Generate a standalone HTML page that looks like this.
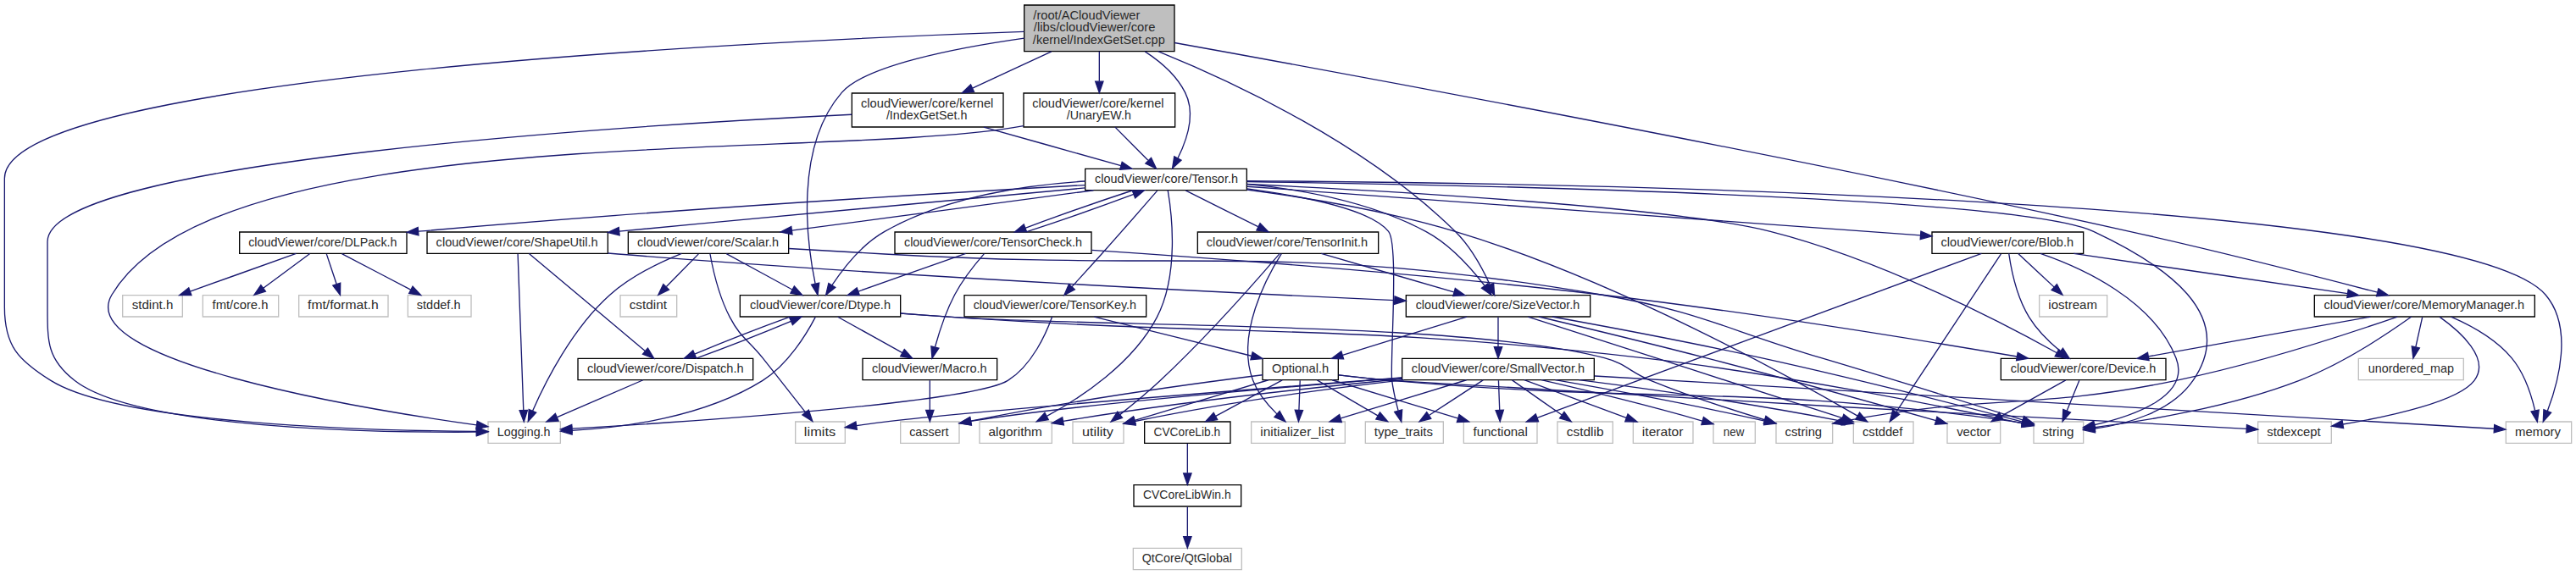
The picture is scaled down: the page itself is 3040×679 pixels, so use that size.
<!DOCTYPE html>
<html><head><meta charset="utf-8"><title>IndexGetSet.cpp include graph</title>
<style>
html,body{margin:0;padding:0;background:#fff;}
body{width:3040px;height:679px;overflow:hidden;font-family:"Liberation Sans",sans-serif;}
svg{display:block;}
</style></head><body>
<svg width="3040" height="678.6667" viewBox="0 0 2280 509">
<g transform="translate(4 505)" font-family="'Liberation Sans', sans-serif" font-size="10.4" fill="#2a2a2a">
<polygon fill="white" stroke="none" points="-4,4 -4,-505 2276,-505 2276,4 -4,4"/>
<g>
<polygon fill="#bfbfbf" stroke="black" points="902.5,-459.5 902.5,-500.5 1035.5,-500.5 1035.5,-459.5 902.5,-459.5"/>
<text text-anchor="start" x="910.5" y="-487.95" textLength="94.51" lengthAdjust="spacingAndGlyphs">/root/ACloudViewer</text>
<text text-anchor="start" x="910.88" y="-476.95" textLength="107.71" lengthAdjust="spacingAndGlyphs">/libs/cloudViewer/core</text>
<text text-anchor="middle" x="968.62" y="-465.95" textLength="116.92" lengthAdjust="spacingAndGlyphs">/kernel/IndexGetSet.cpp</text>
</g>
<g>
<polygon fill="white" stroke="black" points="750,-392.5 750,-422.5 884,-422.5 884,-392.5 750,-392.5"/>
<text text-anchor="start" x="758" y="-409.95" textLength="117.26" lengthAdjust="spacingAndGlyphs">cloudViewer/core/kernel</text>
<text text-anchor="middle" x="816.25" y="-398.95" textLength="71.66" lengthAdjust="spacingAndGlyphs">/IndexGetSet.h</text>
</g>
<g>
<path fill="none" stroke="#191970" d="M926.66,-459.36C904.77,-449.21 878.22,-436.9 856.73,-426.93"/>
<polygon fill="#191970" stroke="#191970" points="858.1,-423.7 847.55,-422.67 855.15,-430.05 858.1,-423.7"/>
</g>
<g>
<polygon fill="white" stroke="#bfbfbf" points="428,-112.5 428,-131.5 492,-131.5 492,-112.5 428,-112.5"/>
<text text-anchor="middle" x="459.62" y="-118.95" textLength="46.94" lengthAdjust="spacingAndGlyphs">Logging.h</text>
</g>
<g>
<path fill="none" stroke="#191970" d="M902.4,-476.95C683.47,-469.34 0,-438.26 0,-347 0,-347 0,-347 0,-233 0,-198.84 12.02,-186.07 41,-168 103.09,-129.28 323.99,-123.6 417.59,-122.96"/>
<polygon fill="#191970" stroke="#191970" points="417.85,-126.46 427.83,-122.91 417.81,-119.46 417.85,-126.46"/>
</g>
<g>
<polygon fill="white" stroke="black" points="956.5,-336.5 956.5,-355.5 1099.5,-355.5 1099.5,-336.5 956.5,-336.5"/>
<text text-anchor="middle" x="1028.38" y="-342.95" textLength="126.66" lengthAdjust="spacingAndGlyphs">cloudViewer/core/Tensor.h</text>
</g>
<g>
<path fill="none" stroke="#191970" d="M1009.43,-459.31C1023.33,-450.31 1037.31,-438.21 1045,-423 1054.39,-404.41 1046.33,-380.68 1038.41,-364.72"/>
<polygon fill="#191970" stroke="#191970" points="1041.49,-363.05 1033.66,-355.9 1035.33,-366.37 1041.49,-363.05"/>
</g>
<g>
<polygon fill="white" stroke="black" points="2044.5,-224.5 2044.5,-243.5 2239.5,-243.5 2239.5,-224.5 2044.5,-224.5"/>
<text text-anchor="middle" x="2141.62" y="-230.95" textLength="177.32" lengthAdjust="spacingAndGlyphs">cloudViewer/core/MemoryManager.h</text>
</g>
<g>
<path fill="none" stroke="#191970" d="M1035.61,-467.11C1186.54,-439.92 1566,-370.09 1881,-300 1958.77,-282.69 2048.82,-259.58 2100.23,-246.09"/>
<polygon fill="#191970" stroke="#191970" points="2101.2,-249.46 2109.98,-243.53 2099.42,-242.69 2101.2,-249.46"/>
</g>
<g>
<polygon fill="white" stroke="black" points="651,-224.5 651,-243.5 793,-243.5 793,-224.5 651,-224.5"/>
<text text-anchor="middle" x="722" y="-230.95" textLength="124.53" lengthAdjust="spacingAndGlyphs">cloudViewer/core/Dtype.h</text>
</g>
<g>
<path fill="none" stroke="#191970" d="M902.49,-471.19C842.98,-462.74 761.99,-447.15 741,-423 699.08,-374.75 709.96,-291.04 717.56,-253.8"/>
<polygon fill="#191970" stroke="#191970" points="721.02,-254.34 719.75,-243.83 714.18,-252.84 721.02,-254.34"/>
</g>
<g>
<polygon fill="white" stroke="black" points="1240.5,-224.5 1240.5,-243.5 1403.5,-243.5 1403.5,-224.5 1240.5,-224.5"/>
<text text-anchor="middle" x="1321.62" y="-230.95" textLength="145.21" lengthAdjust="spacingAndGlyphs">cloudViewer/core/SizeVector.h</text>
</g>
<g>
<path fill="none" stroke="#191970" d="M1021,-459.46C1088.26,-432.12 1206.02,-377.02 1284,-300 1297.64,-286.53 1308.12,-267.17 1314.58,-253.08"/>
<polygon fill="#191970" stroke="#191970" points="1317.96,-254.09 1318.73,-243.52 1311.54,-251.3 1317.96,-254.09"/>
</g>
<g>
<polygon fill="white" stroke="black" points="902,-392.5 902,-422.5 1036,-422.5 1036,-392.5 902,-392.5"/>
<text text-anchor="start" x="909.62" y="-409.95" textLength="116.51" lengthAdjust="spacingAndGlyphs">cloudViewer/core/kernel</text>
<text text-anchor="middle" x="968.62" y="-398.95" textLength="57.01" lengthAdjust="spacingAndGlyphs">/UnaryEW.h</text>
</g>
<g>
<path fill="none" stroke="#191970" d="M969,-459.36C969,-451.23 969,-441.7 969,-433.11"/>
<polygon fill="#191970" stroke="#191970" points="972.5,-432.89 969,-422.89 965.5,-432.89 972.5,-432.89"/>
</g>
<g>
<path fill="none" stroke="#191970" d="M749.91,-403.57C560.95,-394.44 38,-362.69 38,-291 38,-291 38,-291 38,-233 38,-202.2 37.76,-187 62,-168 116.42,-125.34 326.48,-121.8 417.52,-122.35"/>
<polygon fill="#191970" stroke="#191970" points="417.73,-125.85 427.76,-122.43 417.79,-118.85 417.73,-125.85"/>
</g>
<g>
<path fill="none" stroke="#191970" d="M866.74,-392.47C903.77,-382.03 953.68,-367.96 988.12,-358.25"/>
<polygon fill="#191970" stroke="#191970" points="989.16,-361.59 997.83,-355.51 987.26,-354.85 989.16,-361.59"/>
</g>
<g>
<polygon fill="white" stroke="#bfbfbf" points="863,-112.5 863,-131.5 927,-131.5 927,-112.5 863,-112.5"/>
<text text-anchor="middle" x="894.62" y="-118.95" textLength="47.51" lengthAdjust="spacingAndGlyphs">algorithm</text>
</g>
<g>
<path fill="none" stroke="#191970" d="M1029.64,-336.47C1033.18,-315.79 1039.68,-261.94 1020,-224 998.67,-182.88 952.43,-152.62 922.56,-136.42"/>
<polygon fill="#191970" stroke="#191970" points="923.97,-133.21 913.49,-131.66 920.72,-139.41 923.97,-133.21"/>
</g>
<g>
<polygon fill="white" stroke="#bfbfbf" points="1636.5,-112.5 1636.5,-131.5 1689.5,-131.5 1689.5,-112.5 1636.5,-112.5"/>
<text text-anchor="middle" x="1662.25" y="-118.95" textLength="35.50" lengthAdjust="spacingAndGlyphs">cstddef</text>
</g>
<g>
<path fill="none" stroke="#191970" d="M1099.68,-337C1151.59,-330.1 1223.06,-318.3 1284,-300 1425.98,-257.36 1582.52,-170.17 1640.12,-136.6"/>
<polygon fill="#191970" stroke="#191970" points="1641.94,-139.59 1648.8,-131.51 1638.4,-133.55 1641.94,-139.59"/>
</g>
<g>
<polygon fill="white" stroke="#bfbfbf" points="2214,-112.5 2214,-131.5 2272,-131.5 2272,-112.5 2214,-112.5"/>
<text text-anchor="middle" x="2242.25" y="-118.95" textLength="40.28" lengthAdjust="spacingAndGlyphs">memory</text>
</g>
<g>
<path fill="none" stroke="#191970" d="M1099.57,-344.77C1349.72,-343.22 2173.84,-331.47 2249,-244 2273.7,-215.26 2260.66,-167.04 2250.77,-140.99"/>
<polygon fill="#191970" stroke="#191970" points="2253.96,-139.56 2246.97,-131.6 2247.47,-142.18 2253.96,-139.56"/>
</g>
<g>
<polygon fill="white" stroke="#bfbfbf" points="1796,-112.5 1796,-131.5 1840,-131.5 1840,-112.5 1796,-112.5"/>
<text text-anchor="middle" x="1817.62" y="-118.95" textLength="27.96" lengthAdjust="spacingAndGlyphs">string</text>
</g>
<g>
<path fill="none" stroke="#191970" d="M1099.71,-344.13C1287.21,-341.42 1782.16,-331.35 1849,-300 1912.84,-270.06 1977.08,-226.01 1937,-168 1917.63,-139.96 1878.38,-129.38 1850.25,-125.39"/>
<polygon fill="#191970" stroke="#191970" points="1850.43,-121.88 1840.08,-124.16 1849.59,-128.83 1850.43,-121.88"/>
</g>
<g>
<polygon fill="white" stroke="#bfbfbf" points="1204.5,-112.5 1204.5,-131.5 1273.5,-131.5 1273.5,-112.5 1204.5,-112.5"/>
<text text-anchor="middle" x="1238.25" y="-118.95" textLength="51.91" lengthAdjust="spacingAndGlyphs">type_traits</text>
</g>
<g>
<path fill="none" stroke="#191970" d="M1099.73,-337.83C1149.32,-331.24 1209.11,-319.47 1225,-300 1234.28,-288.63 1226.08,-182.54 1228,-168 1229.17,-159.12 1231.41,-149.45 1233.56,-141.36"/>
<polygon fill="#191970" stroke="#191970" points="1236.98,-142.1 1236.33,-131.52 1230.25,-140.2 1236.98,-142.1"/>
</g>
<g>
<polygon fill="white" stroke="black" points="1706,-280.5 1706,-299.5 1840,-299.5 1840,-280.5 1706,-280.5"/>
<text text-anchor="middle" x="1772.62" y="-286.95" textLength="117.34" lengthAdjust="spacingAndGlyphs">cloudViewer/core/Blob.h</text>
</g>
<g>
<path fill="none" stroke="#191970" d="M1099.77,-339.8C1240.36,-329.61 1550.89,-307.1 1695.76,-296.6"/>
<polygon fill="#191970" stroke="#191970" points="1696.18,-300.08 1705.9,-295.86 1695.67,-293.1 1696.18,-300.08"/>
</g>
<g>
<polygon fill="white" stroke="black" points="1767,-168.5 1767,-187.5 1913,-187.5 1913,-168.5 1767,-168.5"/>
<text text-anchor="middle" x="1840" y="-174.95" textLength="128.69" lengthAdjust="spacingAndGlyphs">cloudViewer/core/Device.h</text>
</g>
<g>
<path fill="none" stroke="#191970" d="M1099.72,-341.88C1224.7,-335.95 1477.27,-321.7 1563,-300 1661.76,-275.01 1770.02,-218.34 1816.59,-192.41"/>
<polygon fill="#191970" stroke="#191970" points="1818.3,-195.46 1825.31,-187.51 1814.87,-189.35 1818.3,-195.46"/>
</g>
<g>
<polygon fill="white" stroke="black" points="208,-280.5 208,-299.5 356,-299.5 356,-280.5 208,-280.5"/>
<text text-anchor="middle" x="281.62" y="-286.95" textLength="131.51" lengthAdjust="spacingAndGlyphs">cloudViewer/core/DLPack.h</text>
</g>
<g>
<path fill="none" stroke="#191970" d="M956.31,-341.08C836.46,-334.32 587.59,-319.4 366.38,-300.09"/>
<polygon fill="#191970" stroke="#191970" points="366.46,-296.58 356.2,-299.2 365.85,-303.56 366.46,-296.58"/>
</g>
<g>
<path fill="none" stroke="#191970" d="M956.42,-344.47C904.22,-341.24 833.39,-330.77 779,-300 758.88,-288.62 742.33,-267.4 732.35,-252.3"/>
<polygon fill="#191970" stroke="#191970" points="735.3,-250.43 727,-243.84 729.38,-254.16 735.3,-250.43"/>
</g>
<g>
<polygon fill="white" stroke="black" points="552,-280.5 552,-299.5 694,-299.5 694,-280.5 552,-280.5"/>
<text text-anchor="middle" x="622.62" y="-286.95" textLength="125.31" lengthAdjust="spacingAndGlyphs">cloudViewer/core/Scalar.h</text>
</g>
<g>
<path fill="none" stroke="#191970" d="M963.83,-336.44C891.25,-326.77 773.26,-311.04 696.9,-300.85"/>
<polygon fill="#191970" stroke="#191970" points="697.25,-297.37 686.87,-299.52 696.32,-304.31 697.25,-297.37"/>
</g>
<g>
<polygon fill="white" stroke="black" points="374,-280.5 374,-299.5 534,-299.5 534,-280.5 374,-280.5"/>
<text text-anchor="middle" x="453.62" y="-286.95" textLength="143.35" lengthAdjust="spacingAndGlyphs">cloudViewer/core/ShapeUtil.h</text>
</g>
<g>
<path fill="none" stroke="#191970" d="M956.49,-338.55C863.9,-330.16 697.23,-314.91 544.12,-300.1"/>
<polygon fill="#191970" stroke="#191970" points="544.34,-296.61 534.05,-299.13 543.67,-303.57 544.34,-296.61"/>
</g>
<g>
<path fill="none" stroke="#191970" d="M1099.58,-341.93C1146.94,-337.34 1209.08,-326.29 1258,-300 1279.49,-288.45 1298.29,-267.27 1309.85,-252.23"/>
<polygon fill="#191970" stroke="#191970" points="1312.96,-253.92 1316.08,-243.79 1307.32,-249.76 1312.96,-253.92"/>
</g>
<g>
<polygon fill="white" stroke="black" points="788,-280.5 788,-299.5 962,-299.5 962,-280.5 788,-280.5"/>
<text text-anchor="middle" x="875" y="-286.95" textLength="157.59" lengthAdjust="spacingAndGlyphs">cloudViewer/core/TensorCheck.h</text>
</g>
<g>
<path fill="none" stroke="#191970" d="M998.67,-336.44C971.18,-327.44 930.59,-313.19 903.41,-303.05"/>
<polygon fill="#191970" stroke="#191970" points="904.64,-299.77 894.05,-299.52 902.17,-306.32 904.64,-299.77"/>
</g>
<g>
<polygon fill="white" stroke="black" points="1056,-280.5 1056,-299.5 1216,-299.5 1216,-280.5 1056,-280.5"/>
<text text-anchor="middle" x="1135.25" y="-286.95" textLength="142.82" lengthAdjust="spacingAndGlyphs">cloudViewer/core/TensorInit.h</text>
</g>
<g>
<path fill="none" stroke="#191970" d="M1045.35,-336.32C1062.67,-327.66 1089.52,-314.24 1109.5,-304.25"/>
<polygon fill="#191970" stroke="#191970" points="1111.31,-307.26 1118.69,-299.65 1108.18,-301 1111.31,-307.26"/>
</g>
<g>
<polygon fill="white" stroke="black" points="849.5,-224.5 849.5,-243.5 1010.5,-243.5 1010.5,-224.5 849.5,-224.5"/>
<text text-anchor="middle" x="929.62" y="-230.95" textLength="144.28" lengthAdjust="spacingAndGlyphs">cloudViewer/core/TensorKey.h</text>
</g>
<g>
<path fill="none" stroke="#191970" d="M1020.31,-336.12C1009.41,-323.56 988.8,-299.92 971,-280 962.35,-270.33 952.57,-259.58 944.73,-251.02"/>
<polygon fill="#191970" stroke="#191970" points="947.25,-248.59 937.91,-243.58 942.09,-253.32 947.25,-248.59"/>
</g>
<g>
<path fill="none" stroke="#191970" d="M1767.09,-280.08C1749.55,-253.61 1697.6,-175.21 1674.4,-140.21"/>
<polygon fill="#191970" stroke="#191970" points="1677.12,-137.97 1668.68,-131.57 1671.28,-141.84 1677.12,-137.97"/>
</g>
<g>
<path fill="none" stroke="#191970" d="M1801.99,-280.46C1839.37,-267.57 1901.95,-239.05 1922,-188 1935.21,-154.36 1885.18,-136.75 1849.96,-128.71"/>
<polygon fill="#191970" stroke="#191970" points="1850.55,-125.25 1840.04,-126.6 1849.1,-132.1 1850.55,-125.25"/>
</g>
<g>
<polygon fill="white" stroke="#bfbfbf" points="1291.5,-112.5 1291.5,-131.5 1356.5,-131.5 1356.5,-112.5 1291.5,-112.5"/>
<text text-anchor="middle" x="1324" y="-118.95" textLength="48.26" lengthAdjust="spacingAndGlyphs">functional</text>
</g>
<g>
<path fill="none" stroke="#191970" d="M1749.81,-280.42C1675.44,-252.93 1442.83,-166.93 1356.59,-135.05"/>
<polygon fill="#191970" stroke="#191970" points="1357.65,-131.71 1347.06,-131.52 1355.22,-138.27 1357.65,-131.71"/>
</g>
<g>
<polygon fill="white" stroke="#bfbfbf" points="1801,-224.5 1801,-243.5 1861,-243.5 1861,-224.5 1801,-224.5"/>
<text text-anchor="middle" x="1830.62" y="-230.95" textLength="43.19" lengthAdjust="spacingAndGlyphs">iostream</text>
</g>
<g>
<path fill="none" stroke="#191970" d="M1782.32,-280.32C1790.89,-272.34 1803.81,-260.31 1814.19,-250.65"/>
<polygon fill="#191970" stroke="#191970" points="1816.58,-253.21 1821.51,-243.83 1811.81,-248.09 1816.58,-253.21"/>
</g>
<g>
<path fill="none" stroke="#191970" d="M1774.04,-280.42C1775.92,-267.39 1780.8,-242.23 1792,-224 1799.12,-212.41 1810.01,-201.86 1819.61,-193.9"/>
<polygon fill="#191970" stroke="#191970" points="1821.91,-196.54 1827.6,-187.6 1817.58,-191.04 1821.91,-196.54"/>
</g>
<g>
<path fill="none" stroke="#191970" d="M1831.47,-280.44C1897.32,-270.81 2004.22,-255.16 2073.82,-244.98"/>
<polygon fill="#191970" stroke="#191970" points="2074.42,-248.43 2083.8,-243.52 2073.4,-241.5 2074.42,-248.43"/>
</g>
<g>
<path fill="none" stroke="#191970" d="M1836.37,-168.08C1833.39,-160.77 1829.07,-150.18 1825.38,-141.1"/>
<polygon fill="#191970" stroke="#191970" points="1828.58,-139.69 1821.57,-131.75 1822.1,-142.33 1828.58,-139.69"/>
</g>
<g>
<polygon fill="white" stroke="#bfbfbf" points="1719.5,-112.5 1719.5,-131.5 1766.5,-131.5 1766.5,-112.5 1719.5,-112.5"/>
<text text-anchor="middle" x="1743" y="-118.95" textLength="30.22" lengthAdjust="spacingAndGlyphs">vector</text>
</g>
<g>
<path fill="none" stroke="#191970" d="M1824.42,-168.32C1809,-159.74 1785.19,-146.49 1767.29,-136.52"/>
<polygon fill="#191970" stroke="#191970" points="1768.99,-133.46 1758.55,-131.65 1765.58,-139.58 1768.99,-133.46"/>
</g>
<g>
<path fill="none" stroke="#191970" d="M2165.45,-224.35C2182.41,-217.02 2204.77,-204.97 2219,-188 2230.22,-174.62 2236.43,-155.51 2239.71,-141.47"/>
<polygon fill="#191970" stroke="#191970" points="2243.17,-142.01 2241.75,-131.51 2236.32,-140.6 2243.17,-142.01"/>
</g>
<g>
<path fill="none" stroke="#191970" d="M2130.33,-224.44C2110.78,-210.51 2069.74,-182.98 2031,-168 1969.42,-144.19 1892.69,-131.92 1850.17,-126.53"/>
<polygon fill="#191970" stroke="#191970" points="1850.48,-123.04 1840.13,-125.3 1849.63,-129.99 1850.48,-123.04"/>
</g>
<g>
<path fill="none" stroke="#191970" d="M2094.15,-224.44C2040.8,-214.9 1954.56,-199.48 1897.56,-189.29"/>
<polygon fill="#191970" stroke="#191970" points="1898.09,-185.83 1887.63,-187.52 1896.86,-192.72 1898.09,-185.83"/>
</g>
<g>
<polygon fill="white" stroke="#bfbfbf" points="1568,-112.5 1568,-131.5 1618,-131.5 1618,-112.5 1568,-112.5"/>
<text text-anchor="middle" x="1592.25" y="-118.95" textLength="32.70" lengthAdjust="spacingAndGlyphs">cstring</text>
</g>
<g>
<path fill="none" stroke="#191970" d="M2117.92,-224.45C2077.8,-210.54 1994.53,-183.05 1922,-168 1793.1,-141.26 1757.35,-156.44 1628,-132 1627.9,-131.98 1627.8,-131.96 1627.7,-131.94"/>
<polygon fill="#191970" stroke="#191970" points="1628.66,-128.57 1618.15,-129.88 1627.18,-135.41 1628.66,-128.57"/>
</g>
<g>
<polygon fill="white" stroke="#bfbfbf" points="1994.5,-112.5 1994.5,-131.5 2059.5,-131.5 2059.5,-112.5 1994.5,-112.5"/>
<text text-anchor="middle" x="2026.25" y="-118.95" textLength="47.62" lengthAdjust="spacingAndGlyphs">stdexcept</text>
</g>
<g>
<path fill="none" stroke="#191970" d="M2155.24,-224.39C2173.03,-211.75 2200.8,-187.56 2186,-168 2171.97,-149.45 2111.94,-136.35 2069.8,-129.23"/>
<polygon fill="#191970" stroke="#191970" points="2070.21,-125.75 2059.77,-127.59 2069.08,-132.66 2070.21,-125.75"/>
</g>
<g>
<polygon fill="white" stroke="#bfbfbf" points="2083.5,-168.5 2083.5,-187.5 2176.5,-187.5 2176.5,-168.5 2083.5,-168.5"/>
<text text-anchor="middle" x="2130" y="-174.95" textLength="75.84" lengthAdjust="spacingAndGlyphs">unordered_map</text>
</g>
<g>
<path fill="none" stroke="#191970" d="M2140.02,-224.08C2138.43,-216.93 2136.14,-206.64 2134.15,-197.69"/>
<polygon fill="#191970" stroke="#191970" points="2137.53,-196.75 2131.94,-187.75 2130.7,-198.27 2137.53,-196.75"/>
</g>
<g>
<polygon fill="white" stroke="#bfbfbf" points="357,-224.5 357,-243.5 413,-243.5 413,-224.5 357,-224.5"/>
<text text-anchor="middle" x="384.25" y="-230.95" textLength="38.79" lengthAdjust="spacingAndGlyphs">stddef.h</text>
</g>
<g>
<path fill="none" stroke="#191970" d="M298.55,-280.32C314.99,-271.7 340.43,-258.36 359.47,-248.39"/>
<polygon fill="#191970" stroke="#191970" points="361.26,-251.4 368.49,-243.65 358.01,-245.2 361.26,-251.4"/>
</g>
<g>
<polygon fill="white" stroke="#bfbfbf" points="104.5,-224.5 104.5,-243.5 157.5,-243.5 157.5,-224.5 104.5,-224.5"/>
<text text-anchor="middle" x="131" y="-230.95" textLength="36.53" lengthAdjust="spacingAndGlyphs">stdint.h</text>
</g>
<g>
<path fill="none" stroke="#191970" d="M258.07,-280.44C232.78,-271.4 192.7,-257.06 164.32,-246.92"/>
<polygon fill="#191970" stroke="#191970" points="165.41,-243.59 154.81,-243.52 163.05,-250.18 165.41,-243.59"/>
</g>
<g>
<polygon fill="white" stroke="#bfbfbf" points="175.5,-224.5 175.5,-243.5 242.5,-243.5 242.5,-224.5 175.5,-224.5"/>
<text text-anchor="middle" x="208.62" y="-230.95" textLength="49.48" lengthAdjust="spacingAndGlyphs">fmt/core.h</text>
</g>
<g>
<path fill="none" stroke="#191970" d="M270.27,-280.32C259.16,-272.11 242.26,-259.6 229.02,-249.81"/>
<polygon fill="#191970" stroke="#191970" points="231.06,-246.97 220.94,-243.83 226.9,-252.59 231.06,-246.97"/>
</g>
<g>
<polygon fill="white" stroke="#bfbfbf" points="260.5,-224.5 260.5,-243.5 339.5,-243.5 339.5,-224.5 260.5,-224.5"/>
<text text-anchor="middle" x="299.62" y="-230.95" textLength="62.68" lengthAdjust="spacingAndGlyphs">fmt/format.h</text>
</g>
<g>
<path fill="none" stroke="#191970" d="M284.97,-280.08C287.38,-272.85 290.86,-262.41 293.87,-253.4"/>
<polygon fill="#191970" stroke="#191970" points="297.24,-254.34 297.08,-243.75 290.6,-252.13 297.24,-254.34"/>
</g>
<g>
<path fill="none" stroke="#191970" d="M717.72,-224.25C710.3,-210.04 693.64,-182.12 671,-168 618.97,-135.53 547.17,-126.19 502.18,-123.67"/>
<polygon fill="#191970" stroke="#191970" points="502.33,-120.17 492.18,-123.2 502,-127.17 502.33,-120.17"/>
</g>
<g>
<path fill="none" stroke="#191970" d="M793.09,-227.43C808.86,-226.25 825.5,-225.04 841,-224 1111.53,-205.78 1180.64,-219 1450,-188 1575.16,-173.6 1722.19,-143.64 1785.89,-130.02"/>
<polygon fill="#191970" stroke="#191970" points="1786.7,-133.43 1795.74,-127.9 1785.22,-126.58 1786.7,-133.43"/>
</g>
<g>
<path fill="none" stroke="#191970" d="M793.1,-227.47C808.87,-226.29 825.5,-225.07 841,-224 968.72,-215.17 1292.22,-220.69 1416,-188 1435.6,-182.82 1438.22,-175.65 1457,-168 1490.64,-154.3 1530.17,-141.58 1557.91,-133.19"/>
<polygon fill="#191970" stroke="#191970" points="1558.99,-136.52 1567.57,-130.3 1556.98,-129.81 1558.99,-136.52"/>
</g>
<g>
<polygon fill="white" stroke="black" points="759.5,-168.5 759.5,-187.5 878.5,-187.5 878.5,-168.5 759.5,-168.5"/>
<text text-anchor="middle" x="818.62" y="-174.95" textLength="101.80" lengthAdjust="spacingAndGlyphs">cloudViewer/Macro.h</text>
</g>
<g>
<path fill="none" stroke="#191970" d="M737.58,-224.32C753,-215.74 776.81,-202.49 794.71,-192.52"/>
<polygon fill="#191970" stroke="#191970" points="796.42,-195.58 803.45,-187.65 793.01,-189.46 796.42,-195.58"/>
</g>
<g>
<polygon fill="white" stroke="black" points="507.5,-168.5 507.5,-187.5 662.5,-187.5 662.5,-168.5 507.5,-168.5"/>
<text text-anchor="middle" x="585" y="-174.95" textLength="138.41" lengthAdjust="spacingAndGlyphs">cloudViewer/core/Dispatch.h</text>
</g>
<g>
<path fill="none" stroke="#191970" d="M695.2,-224.44C670.71,-215.56 634.97,-201.56 610.8,-191.45"/>
<polygon fill="#191970" stroke="#191970" points="612.1,-188.2 601.53,-187.52 609.36,-194.64 612.1,-188.2"/>
</g>
<g>
<polygon fill="white" stroke="#bfbfbf" points="793,-112.5 793,-131.5 845,-131.5 845,-112.5 793,-112.5"/>
<text text-anchor="middle" x="818.25" y="-118.95" textLength="34.73" lengthAdjust="spacingAndGlyphs">cassert</text>
</g>
<g>
<path fill="none" stroke="#191970" d="M819,-168.08C819,-161.01 819,-150.86 819,-141.99"/>
<polygon fill="#191970" stroke="#191970" points="822.5,-141.75 819,-131.75 815.5,-141.75 822.5,-141.75"/>
</g>
<g>
<path fill="none" stroke="#191970" d="M565.19,-168.44C544.71,-159.6 512.52,-145.69 489.14,-135.59"/>
<polygon fill="#191970" stroke="#191970" points="490.28,-132.27 479.71,-131.52 487.51,-138.7 490.28,-132.27"/>
</g>
<g>
<path fill="none" stroke="#191970" d="M611.69,-187.52C636.15,-196.39 671.88,-210.38 696.09,-220.5"/>
<polygon fill="#191970" stroke="#191970" points="694.81,-223.76 705.38,-224.44 697.54,-217.32 694.81,-223.76"/>
</g>
<g>
<path fill="none" stroke="#191970" d="M599.28,-280.5C580.61,-272.97 554.69,-260.59 536,-244 502.74,-214.47 478.79,-166.95 467.42,-141.13"/>
<polygon fill="#191970" stroke="#191970" points="470.58,-139.62 463.45,-131.79 464.14,-142.36 470.58,-139.62"/>
</g>
<g>
<path fill="none" stroke="#191970" d="M694.06,-284.89C720.7,-283.35 751.24,-281.59 779,-280 1060.77,-263.87 1134.75,-291.24 1413,-244 1501.9,-228.91 1521.59,-213.78 1608,-188 1671.38,-169.09 1745.2,-145.99 1786.26,-133.05"/>
<polygon fill="#191970" stroke="#191970" points="1787.49,-136.33 1795.97,-129.98 1785.38,-129.65 1787.49,-136.33"/>
</g>
<g>
<path fill="none" stroke="#191970" d="M638.91,-280.32C654.64,-271.74 678.94,-258.49 697.21,-248.52"/>
<polygon fill="#191970" stroke="#191970" points="699.03,-251.52 706.13,-243.65 695.68,-245.37 699.03,-251.52"/>
</g>
<g>
<polygon fill="white" stroke="#bfbfbf" points="545,-224.5 545,-243.5 595,-243.5 595,-224.5 545,-224.5"/>
<text text-anchor="middle" x="569.62" y="-230.95" textLength="33.26" lengthAdjust="spacingAndGlyphs">cstdint</text>
</g>
<g>
<path fill="none" stroke="#191970" d="M614.25,-280.08C606.53,-272.22 595.1,-260.57 585.78,-251.08"/>
<polygon fill="#191970" stroke="#191970" points="588.09,-248.44 578.59,-243.75 583.1,-253.34 588.09,-248.44"/>
</g>
<g>
<polygon fill="white" stroke="#bfbfbf" points="700,-112.5 700,-131.5 744,-131.5 744,-112.5 700,-112.5"/>
<text text-anchor="middle" x="721.62" y="-118.95" textLength="27.96" lengthAdjust="spacingAndGlyphs">limits</text>
</g>
<g>
<path fill="none" stroke="#191970" d="M624.44,-280.18C626.79,-267.27 632.2,-242.76 642,-224 651.51,-205.79 658.21,-204.08 671,-188 683.91,-171.76 698.51,-153.13 708.77,-139.98"/>
<polygon fill="#191970" stroke="#191970" points="711.72,-141.9 715.11,-131.86 706.2,-137.59 711.72,-141.9"/>
</g>
<g>
<path fill="none" stroke="#191970" d="M454.32,-280.08C455.27,-253.95 458.04,-177.21 459.33,-141.58"/>
<polygon fill="#191970" stroke="#191970" points="462.83,-141.69 459.69,-131.57 455.83,-141.44 462.83,-141.69"/>
</g>
<g>
<path fill="none" stroke="#191970" d="M464.28,-280.37C486.47,-261.73 539.11,-217.53 566.98,-194.13"/>
<polygon fill="#191970" stroke="#191970" points="569.36,-196.7 574.77,-187.59 564.86,-191.34 569.36,-196.7"/>
</g>
<g>
<path fill="none" stroke="#191970" d="M534.04,-280.74C537.06,-280.48 540.06,-280.23 543,-280 791.1,-260.3 1084.3,-245.7 1230.09,-239.03"/>
<polygon fill="#191970" stroke="#191970" points="1230.5,-242.51 1240.33,-238.56 1230.18,-235.52 1230.5,-242.51"/>
</g>
<g>
<path fill="none" stroke="#191970" d="M1348.47,-224.46C1409.03,-204.93 1557.72,-156.96 1626.72,-134.7"/>
<polygon fill="#191970" stroke="#191970" points="1627.87,-138.01 1636.31,-131.61 1625.72,-131.35 1627.87,-138.01"/>
</g>
<g>
<path fill="none" stroke="#191970" d="M1369.9,-224.5C1417.1,-215.94 1491.22,-202.03 1555,-188 1638.84,-169.56 1736.82,-144.37 1786.16,-131.43"/>
<polygon fill="#191970" stroke="#191970" points="1787.14,-134.79 1795.92,-128.86 1785.36,-128.02 1787.14,-134.79"/>
</g>
<g>
<path fill="none" stroke="#191970" d="M1358.04,-224.5C1395.19,-215.66 1454.75,-201.29 1506,-188 1578.76,-169.13 1663.62,-145.45 1709.46,-132.51"/>
<polygon fill="#191970" stroke="#191970" points="1710.5,-135.86 1719.17,-129.77 1708.6,-129.12 1710.5,-135.86"/>
</g>
<g>
<polygon fill="white" stroke="black" points="1113.5,-168.5 1113.5,-187.5 1180.5,-187.5 1180.5,-168.5 1113.5,-168.5"/>
<text text-anchor="middle" x="1147" y="-174.95" textLength="50.30" lengthAdjust="spacingAndGlyphs">Optional.h</text>
</g>
<g>
<path fill="none" stroke="#191970" d="M1294.27,-224.44C1264.57,-215.28 1217.28,-200.69 1184.33,-190.52"/>
<polygon fill="#191970" stroke="#191970" points="1185.19,-187.12 1174.6,-187.52 1183.12,-193.81 1185.19,-187.12"/>
</g>
<g>
<polygon fill="white" stroke="black" points="1237,-168.5 1237,-187.5 1407,-187.5 1407,-168.5 1237,-168.5"/>
<text text-anchor="middle" x="1322" y="-174.95" textLength="153.21" lengthAdjust="spacingAndGlyphs">cloudViewer/core/SmallVector.h</text>
</g>
<g>
<path fill="none" stroke="#191970" d="M1322,-224.08C1322,-217.01 1322,-206.86 1322,-197.99"/>
<polygon fill="#191970" stroke="#191970" points="1325.5,-197.75 1322,-187.75 1318.5,-197.75 1325.5,-197.75"/>
</g>
<g>
<path fill="none" stroke="#191970" d="M1180.86,-172.89C1195.36,-171.22 1212.5,-169.37 1228,-168 1471.13,-146.52 1534.25,-165.66 1776,-132 1779.25,-131.55 1782.62,-130.98 1785.98,-130.36"/>
<polygon fill="#191970" stroke="#191970" points="1786.76,-133.78 1795.87,-128.37 1785.38,-126.91 1786.76,-133.78"/>
</g>
<g>
<path fill="none" stroke="#191970" d="M1161.78,-168.32C1176.27,-159.82 1198.57,-146.73 1215.49,-136.8"/>
<polygon fill="#191970" stroke="#191970" points="1217.4,-139.74 1224.26,-131.65 1213.86,-133.7 1217.4,-139.74"/>
</g>
<g>
<path fill="none" stroke="#191970" d="M1175.05,-168.44C1205.08,-159.28 1252.91,-144.69 1286.24,-134.52"/>
<polygon fill="#191970" stroke="#191970" points="1287.54,-137.78 1296.09,-131.52 1285.5,-131.09 1287.54,-137.78"/>
</g>
<g>
<path fill="none" stroke="#191970" d="M1180.85,-172.82C1195.35,-171.14 1212.49,-169.3 1228,-168 1303.45,-161.69 1829.76,-133.5 1984.38,-125.26"/>
<polygon fill="#191970" stroke="#191970" points="1984.64,-128.76 1994.44,-124.73 1984.27,-121.77 1984.64,-128.76"/>
</g>
<g>
<path fill="none" stroke="#191970" d="M1113.41,-172.94C1060.51,-166.32 954.4,-152.06 855.19,-132.08"/>
<polygon fill="#191970" stroke="#191970" points="855.81,-128.63 845.31,-130.06 854.41,-135.49 855.81,-128.63"/>
</g>
<g>
<polygon fill="white" stroke="black" points="1009,-112.5 1009,-131.5 1085,-131.5 1085,-112.5 1009,-112.5"/>
<text text-anchor="middle" x="1046.62" y="-118.95" textLength="58.93" lengthAdjust="spacingAndGlyphs">CVCoreLib.h</text>
</g>
<g>
<path fill="none" stroke="#191970" d="M1130.93,-168.32C1115.04,-159.74 1090.49,-146.49 1072.04,-136.52"/>
<polygon fill="#191970" stroke="#191970" points="1073.49,-133.33 1063.03,-131.65 1070.16,-139.49 1073.49,-133.33"/>
</g>
<g>
<polygon fill="white" stroke="#bfbfbf" points="1103.5,-112.5 1103.5,-131.5 1186.5,-131.5 1186.5,-112.5 1103.5,-112.5"/>
<text text-anchor="middle" x="1144.25" y="-118.95" textLength="65.48" lengthAdjust="spacingAndGlyphs">initializer_list</text>
</g>
<g>
<path fill="none" stroke="#191970" d="M1146.67,-168.08C1146.41,-161.01 1146.03,-150.86 1145.7,-141.99"/>
<polygon fill="#191970" stroke="#191970" points="1149.19,-141.61 1145.32,-131.75 1142.2,-141.87 1149.19,-141.61"/>
</g>
<g>
<polygon fill="white" stroke="#bfbfbf" points="945.5,-112.5 945.5,-131.5 990.5,-131.5 990.5,-112.5 945.5,-112.5"/>
<text text-anchor="middle" x="967.62" y="-118.95" textLength="27.68" lengthAdjust="spacingAndGlyphs">utility</text>
</g>
<g>
<path fill="none" stroke="#191970" d="M1118.64,-168.44C1086.48,-158.74 1034.14,-142.95 1000.39,-132.77"/>
<polygon fill="#191970" stroke="#191970" points="1001.15,-129.34 990.56,-129.81 999.13,-136.05 1001.15,-129.34"/>
</g>
<g>
<polygon fill="white" stroke="black" points="999.5,-56.5 999.5,-75.5 1094.5,-75.5 1094.5,-56.5 999.5,-56.5"/>
<text text-anchor="middle" x="1046.62" y="-62.95" textLength="77.72" lengthAdjust="spacingAndGlyphs">CVCoreLibWin.h</text>
</g>
<g>
<path fill="none" stroke="#191970" d="M1047,-112.08C1047,-105.01 1047,-94.86 1047,-85.99"/>
<polygon fill="#191970" stroke="#191970" points="1050.5,-85.75 1047,-75.75 1043.5,-85.75 1050.5,-85.75"/>
</g>
<g>
<polygon fill="white" stroke="#bfbfbf" points="999,-0.5 999,-19.5 1095,-19.5 1095,-0.5 999,-0.5"/>
<text text-anchor="middle" x="1046.62" y="-6.95" textLength="79.75" lengthAdjust="spacingAndGlyphs">QtCore/QtGlobal</text>
</g>
<g>
<path fill="none" stroke="#191970" d="M1047,-56.08C1047,-49.01 1047,-38.86 1047,-29.99"/>
<polygon fill="#191970" stroke="#191970" points="1050.5,-29.75 1047,-19.75 1043.5,-29.75 1050.5,-29.75"/>
</g>
<g>
<path fill="none" stroke="#191970" d="M1236.8,-169.38C1158.57,-161.83 1039.58,-148.95 937,-132 936.9,-131.98 936.8,-131.97 936.7,-131.95"/>
<polygon fill="#191970" stroke="#191970" points="937.51,-128.54 927.04,-130.19 936.26,-135.43 937.51,-128.54"/>
</g>
<g>
<path fill="none" stroke="#191970" d="M1393.52,-168.47C1453.25,-160.89 1540.8,-148.69 1626.44,-131.94"/>
<polygon fill="#191970" stroke="#191970" points="1627.2,-135.35 1636.33,-129.98 1625.84,-128.49 1627.2,-135.35"/>
</g>
<g>
<path fill="none" stroke="#191970" d="M1407.41,-171.99C1600.59,-160.67 2065.08,-133.43 2203.45,-125.32"/>
<polygon fill="#191970" stroke="#191970" points="2203.82,-128.8 2213.6,-124.72 2203.41,-121.82 2203.82,-128.8"/>
</g>
<g>
<path fill="none" stroke="#191970" d="M1308.66,-168.32C1295.84,-159.98 1276.22,-147.21 1261.06,-137.35"/>
<polygon fill="#191970" stroke="#191970" points="1262.59,-134.17 1252.3,-131.65 1258.78,-140.04 1262.59,-134.17"/>
</g>
<g>
<path fill="none" stroke="#191970" d="M1322.33,-168.08C1322.59,-161.01 1322.97,-150.86 1323.3,-141.99"/>
<polygon fill="#191970" stroke="#191970" points="1326.8,-141.87 1323.68,-131.75 1319.81,-141.61 1326.8,-141.87"/>
</g>
<g>
<path fill="none" stroke="#191970" d="M1372.61,-168.47C1418.58,-160.47 1488.46,-147.72 1557.99,-132.11"/>
<polygon fill="#191970" stroke="#191970" points="1558.82,-135.51 1567.8,-129.88 1557.27,-128.68 1558.82,-135.51"/>
</g>
<g>
<path fill="none" stroke="#191970" d="M1236.62,-170.4C1126.66,-161.62 940.51,-145.81 855.17,-131.91"/>
<polygon fill="#191970" stroke="#191970" points="855.72,-128.45 845.28,-130.23 854.55,-135.35 855.72,-128.45"/>
</g>
<g>
<path fill="none" stroke="#191970" d="M1236.76,-170.51C1107.84,-160.57 869.27,-141.75 784,-132 774.24,-130.88 763.65,-129.44 754.03,-128.03"/>
<polygon fill="#191970" stroke="#191970" points="754.46,-124.55 744.05,-126.53 753.42,-131.48 754.46,-124.55"/>
</g>
<g>
<path fill="none" stroke="#191970" d="M1293.95,-168.44C1263.92,-159.28 1216.09,-144.69 1182.76,-134.52"/>
<polygon fill="#191970" stroke="#191970" points="1183.5,-131.09 1172.91,-131.52 1181.46,-137.78 1183.5,-131.09"/>
</g>
<g>
<path fill="none" stroke="#191970" d="M1238.74,-168.5C1175.83,-161.35 1087.25,-149.74 1000.64,-131.87"/>
<polygon fill="#191970" stroke="#191970" points="1001.14,-128.4 990.63,-129.77 999.7,-135.25 1001.14,-128.4"/>
</g>
<g>
<polygon fill="white" stroke="#bfbfbf" points="1374.5,-112.5 1374.5,-131.5 1423.5,-131.5 1423.5,-112.5 1374.5,-112.5"/>
<text text-anchor="middle" x="1399" y="-118.95" textLength="32.88" lengthAdjust="spacingAndGlyphs">cstdlib</text>
</g>
<g>
<path fill="none" stroke="#191970" d="M1334.37,-168.32C1346.16,-160.06 1364.13,-147.45 1378.14,-137.63"/>
<polygon fill="#191970" stroke="#191970" points="1380.48,-140.26 1386.66,-131.65 1376.46,-134.53 1380.48,-140.26"/>
</g>
<g>
<polygon fill="white" stroke="#bfbfbf" points="1441.5,-112.5 1441.5,-131.5 1494.5,-131.5 1494.5,-112.5 1441.5,-112.5"/>
<text text-anchor="middle" x="1467.62" y="-118.95" textLength="36.49" lengthAdjust="spacingAndGlyphs">iterator</text>
</g>
<g>
<path fill="none" stroke="#191970" d="M1345.13,-168.44C1369.48,-159.44 1408.01,-145.19 1435.42,-135.05"/>
<polygon fill="#191970" stroke="#191970" points="1436.81,-138.27 1444.97,-131.52 1434.38,-131.7 1436.81,-138.27"/>
</g>
<g>
<polygon fill="white" stroke="#bfbfbf" points="1512.5,-112.5 1512.5,-131.5 1549.5,-131.5 1549.5,-112.5 1512.5,-112.5"/>
<text text-anchor="middle" x="1530.62" y="-118.95" textLength="18.42" lengthAdjust="spacingAndGlyphs">new</text>
</g>
<g>
<path fill="none" stroke="#191970" d="M1360.23,-168.48C1395.12,-160.49 1448.31,-147.81 1502.67,-132.23"/>
<polygon fill="#191970" stroke="#191970" points="1503.84,-135.53 1512.47,-129.39 1501.89,-128.81 1503.84,-135.53"/>
</g>
<g>
<path fill="none" stroke="#191970" d="M904.21,-299.52C931.66,-308.51 972.25,-322.75 999.47,-332.91"/>
<polygon fill="#191970" stroke="#191970" points="998.25,-336.19 1008.85,-336.44 1000.73,-329.64 998.25,-336.19"/>
</g>
<g>
<path fill="none" stroke="#191970" d="M962.31,-283.52C1068.89,-276.41 1254.52,-262.67 1413,-244 1545.08,-228.44 1699.09,-203.24 1781.26,-189.23"/>
<polygon fill="#191970" stroke="#191970" points="1781.89,-192.67 1791.16,-187.54 1780.71,-185.77 1781.89,-192.67"/>
</g>
<g>
<path fill="none" stroke="#191970" d="M850.76,-280.44C825.13,-271.4 784.51,-257.06 755.76,-246.92"/>
<polygon fill="#191970" stroke="#191970" points="756.72,-243.54 746.13,-243.52 754.39,-250.15 756.72,-243.54"/>
</g>
<g>
<path fill="none" stroke="#191970" d="M867.05,-280.28C859.49,-271.61 848.24,-257.67 841,-244 833.16,-229.19 827.3,-211.04 823.6,-197.68"/>
<polygon fill="#191970" stroke="#191970" points="826.93,-196.56 821.01,-187.77 820.16,-198.33 826.93,-196.56"/>
</g>
<g>
<path fill="none" stroke="#191970" d="M1165.47,-280.44C1197.17,-271.24 1247.73,-256.56 1282.77,-246.39"/>
<polygon fill="#191970" stroke="#191970" points="1284.04,-249.67 1292.67,-243.52 1282.09,-242.94 1284.04,-249.67"/>
</g>
<g>
<path fill="none" stroke="#191970" d="M1130.18,-280.29C1117.45,-260.1 1089.51,-208.74 1105,-168 1109.34,-156.6 1118.03,-146.24 1126.21,-138.34"/>
<polygon fill="#191970" stroke="#191970" points="1128.64,-140.86 1133.73,-131.57 1123.96,-135.66 1128.64,-140.86"/>
</g>
<g>
<path fill="none" stroke="#191970" d="M1128.69,-280.42C1111.23,-260.08 1065.38,-207.69 1023,-168 1011.63,-157.35 998.1,-146.26 987.3,-137.76"/>
<polygon fill="#191970" stroke="#191970" points="989.37,-134.93 979.32,-131.55 985.07,-140.45 989.37,-134.93"/>
</g>
<g>
<path fill="none" stroke="#191970" d="M927.24,-224.48C922.08,-210.08 909.52,-181.22 888,-168 855.61,-148.1 604.15,-131.4 502.46,-125.39"/>
<polygon fill="#191970" stroke="#191970" points="502.43,-121.88 492.25,-124.79 502.02,-128.87 502.43,-121.88"/>
</g>
<g>
<path fill="none" stroke="#191970" d="M964.38,-224.44C1002.06,-215.07 1062.58,-200.01 1103.53,-189.82"/>
<polygon fill="#191970" stroke="#191970" points="1104.63,-193.15 1113.49,-187.34 1102.94,-186.36 1104.63,-193.15"/>
</g>
<g>
<path fill="none" stroke="#191970" d="M901.9,-393.48C898.89,-392.97 895.92,-392.47 893,-392 714.95,-363.24 187.48,-398.84 95,-244 59.96,-185.33 314.38,-143.12 417.71,-128.56"/>
<polygon fill="#191970" stroke="#191970" points="418.38,-132 427.81,-127.16 417.42,-125.07 418.38,-132"/>
</g>
<g>
<path fill="none" stroke="#191970" d="M982.98,-392.4C991.73,-383.58 1003.03,-372.18 1012.12,-363.02"/>
<polygon fill="#191970" stroke="#191970" points="1014.86,-365.22 1019.41,-355.66 1009.89,-360.29 1014.86,-365.22"/>
</g>
</g>
</svg>
</body></html>
